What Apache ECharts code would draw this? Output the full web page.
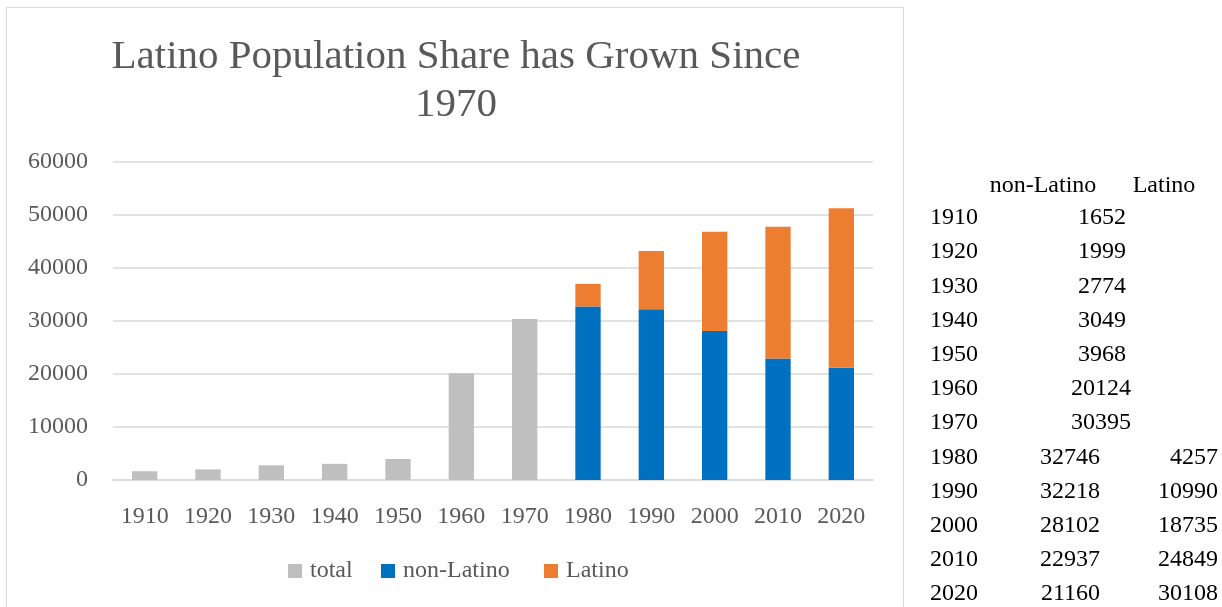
<!DOCTYPE html>
<html><head><meta charset="utf-8">
<script src="https://cdn.jsdelivr.net/npm/echarts@6/dist/echarts.min.js"></script>
<style>html,body{margin:0;padding:0;background:#fff}#c{width:1222px;height:607px}</style>
</head><body><div id="c"></div>
<script>
const years = ['1910','1920','1930','1940','1950','1960','1970','1980','1990','2000','2010','2020'];
const totalVals = [1652,1999,2774,3049,3968,20124,30395,null,null,null,null,null];
const nonLatinoVals = [null,null,null,null,null,null,null,32746,32218,28102,22937,21160];
const latinoVals = [null,null,null,null,null,null,null,4257,10990,18735,24849,30108];
const yTicks = [0,10000,20000,30000,40000,50000,60000];
const seriesNames = ['total','non-Latino','Latino'];
const tableHeader = ['non-Latino','Latino'];

const serif = '"Liberation Serif","DejaVu Serif",serif';
const txt = '#595959';

const chart = echarts.init(document.getElementById('c'), null, {renderer:'canvas'});

// table text as graphic elements
const tbl = [];
const rowY0 = 218, rowH = 34.2;
const tf = '24px ' + serif;
tbl.push({type:'text', x:1043, y:186, style:{text:tableHeader[0], font:tf, fill:'#000', textVerticalAlign:'middle', textAlign:'center'}});
tbl.push({type:'text', x:1164, y:186, style:{text:tableHeader[1], font:tf, fill:'#000', textVerticalAlign:'middle', textAlign:'center'}});
years.forEach((y,i)=>{
  const cy = rowY0 + i*rowH;
  tbl.push({type:'text', x:930, y:cy, style:{text:y, font:tf, fill:'#000', textVerticalAlign:'middle', textAlign:'left'}});
  if (totalVals[i] != null) {
    tbl.push({type:'text', x:(String(totalVals[i]).length > 4 ? 1131 : 1126), y:cy, style:{text:String(totalVals[i]), font:tf, fill:'#000', textVerticalAlign:'middle', textAlign:'right'}});
  } else {
    tbl.push({type:'text', x:1100, y:cy, style:{text:String(nonLatinoVals[i]), font:tf, fill:'#000', textVerticalAlign:'middle', textAlign:'right'}});
    tbl.push({type:'text', x:1218, y:cy, style:{text:String(latinoVals[i]), font:tf, fill:'#000', textVerticalAlign:'middle', textAlign:'right'}});
  }
});

const legendLefts = [288, 381, 544];
const legends = seriesNames.map((n,i)=>({
  data:[n], left:legendLefts[i], top:559, padding:0,
  itemWidth:14, itemHeight:14, icon:'rect',
  textStyle:{fontFamily:serif, fontSize:24, color:txt, padding:[0,0,0,3]}
}));

chart.setOption({
  animation:false,
  backgroundColor:'#fff',
  title:{
    text:'Latino Population Share has Grown Since\n1970',
    left:456, textAlign:'center', top:33, padding:0,
    textStyle:{fontFamily:serif, fontSize:41, fontWeight:'normal', color:txt, lineHeight:48}
  },
  grid:{left:113, right:349, top:162, bottom:127, containLabel:false},
  legend:legends,
  xAxis:{
    type:'category', data:years,
    axisLine:{lineStyle:{color:'#D9D9D9', width:1.5}},
    axisTick:{show:false},
    axisLabel:{fontFamily:serif, fontSize:24, color:txt, margin:25}
  },
  yAxis:{
    type:'value', min:yTicks[0], max:yTicks[yTicks.length-1], interval:10000,
    axisLine:{show:false}, axisTick:{show:false},
    splitLine:{lineStyle:{color:'#D9D9D9', width:1.5}},
    axisLabel:{fontFamily:serif, fontSize:24, color:txt, margin:25, formatter:v=>String(v)}
  },
  series:[
    {name:seriesNames[0], type:'bar', stack:'s', data:totalVals, barWidth:'40%', itemStyle:{color:'#BFBFBF'}},
    {name:seriesNames[1], type:'bar', stack:'s', data:nonLatinoVals, barWidth:'40%', itemStyle:{color:'#0070C0'}},
    {name:seriesNames[2], type:'bar', stack:'s', data:latinoVals, barWidth:'40%', itemStyle:{color:'#ED7D31'}}
  ],
  graphic:[
    {type:'rect', shape:{x:6.5, y:7.5, width:897, height:610}, style:{fill:null, stroke:'#D9D9D9', lineWidth:1}, silent:true},
    ...tbl
  ]
});
</script></body></html>
